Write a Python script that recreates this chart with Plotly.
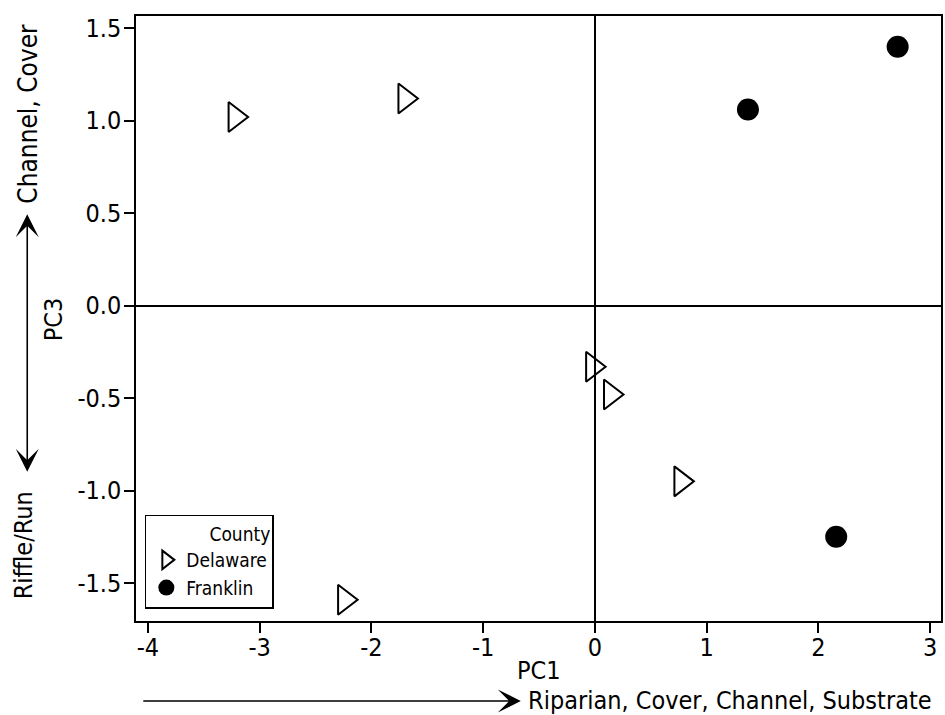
import plotly.graph_objects as go

# Data
delaware_pc1 = [-3.22, -1.70, -0.02, 0.14, 0.77, -2.24]
delaware_pc3 = [1.02, 1.12, -0.33, -0.48, -0.95, -1.59]
franklin_pc1 = [1.37, 2.71, 2.16]
franklin_pc3 = [1.06, 1.40, -1.25]
x_ticks = [-4, -3, -2, -1, 0, 1, 2, 3]
x_ticklabels = ["-4", "-3", "-2", "-1", "0", "1", "2", "3"]
y_ticks = [-1.5, -1.0, -0.5, 0.0, 0.5, 1.0, 1.5]
y_ticklabels = ["-1.5", "-1.0", "-0.5", "0.0", "0.5", "1.0", "1.5"]

FONT = "DejaVu Sans Condensed, DejaVu Sans, sans-serif"
FS = 25

fig = go.Figure()
fig.add_trace(go.Scatter(
    x=delaware_pc1, y=delaware_pc3, mode="markers", name="Delaware",
    marker=dict(symbol="triangle-right-open", size=26, color="black",
                line=dict(width=2, color="black")),
))
fig.add_trace(go.Scatter(
    x=franklin_pc1, y=franklin_pc3, mode="markers", name="Franklin",
    marker=dict(symbol="circle", size=22, color="black",
                line=dict(width=0)),
))

axis_common = dict(
    showgrid=False, showline=True, linecolor="black", linewidth=1.5,
    mirror=True, ticks="outside", ticklen=10, tickwidth=1.5, tickcolor="black",
    zeroline=True, zerolinecolor="black", zerolinewidth=1.5,
    tickfont=dict(family=FONT, size=FS, color="black"),
)

fig.update_layout(
    width=945, height=715, autosize=False,
    margin=dict(l=136, r=2, t=16, b=94),
    plot_bgcolor="white", paper_bgcolor="white",
    font=dict(family=FONT, color="black"),
    xaxis=dict(range=[-4.107, 3.098], tickvals=x_ticks, ticktext=x_ticklabels,
               ticklabelstandoff=-7, **axis_common),
    yaxis=dict(range=[-1.705, 1.566], tickvals=y_ticks, ticktext=y_ticklabels,
               ticklabelstandoff=-2, **axis_common),
    showlegend=True,
    legend=dict(
        x=0.011, y=0.1755, xanchor="left", yanchor="top",
        bordercolor="black", borderwidth=1.5, bgcolor="white",
        font=dict(family=FONT, size=19, color="black"),
        title=dict(text="County", side="top right",
                   font=dict(family=FONT, size=19, color="black")),
    ),
)

annotations = [
    dict(text="PC1", xref="paper", yref="paper", x=0.5, y=-0.0826,
         showarrow=False, xanchor="center", yanchor="middle",
         font=dict(family=FONT, size=FS)),
    dict(text="PC3", xref="paper", yref="paper", x=-0.1029, y=0.499,
         showarrow=False, textangle=-90, xanchor="center", yanchor="middle",
         font=dict(family=FONT, size=FS)),
    dict(text="Channel, Cover", xref="paper", yref="paper", x=-0.1338, y=0.839,
         showarrow=False, textangle=-90, xanchor="center", yanchor="middle",
         font=dict(family=FONT, size=26)),
    dict(text="Riffle/Run", xref="paper", yref="paper", x=-0.140, y=0.1256,
         showarrow=False, textangle=-90, xanchor="center", yanchor="middle",
         font=dict(family=FONT, size=FS)),
    dict(text="Riparian, Cover, Channel, Substrate", xref="paper", yref="paper",
         x=0.4845, y=-0.1322, showarrow=False, xanchor="left", yanchor="middle",
         font=dict(family=FONT, size=FS)),
    # vertical double-headed arrow
    dict(text="", xref="paper", yref="paper", x=-0.1351, y=0.6724,
         ax=0, ay=259, showarrow=True, arrowhead=3, startarrowhead=3,
         arrowside="end+start", arrowsize=2.4, startarrowsize=2.4,
         arrowwidth=1.6, arrowcolor="black"),
    # horizontal arrow
    dict(text="", xref="paper", yref="paper", x=0.478, y=-0.1322,
         ax=-379, ay=0, showarrow=True, arrowhead=3, arrowsize=2.4,
         arrowwidth=1.6, arrowcolor="black"),
]
fig.update_layout(annotations=annotations)

fig.write_html("out.html",
               config={"displayModeBar": False},
               post_script="document.body.style.margin='0px';")
